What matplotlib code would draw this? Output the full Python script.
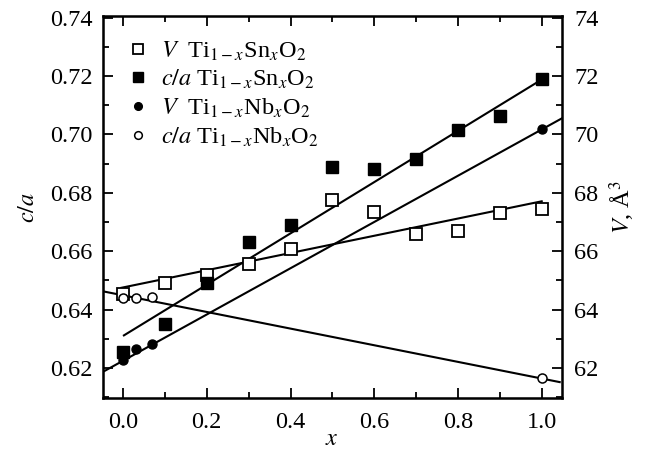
import matplotlib
matplotlib.use("Agg")
import matplotlib.pyplot as plt
import numpy as np
from matplotlib.ticker import MultipleLocator

plt.rcParams["font.family"] = ["Liberation Serif", "DejaVu Serif"]
plt.rcParams["mathtext.fontset"] = "stix"
plt.rcParams["font.size"] = 17.5

# V Ti(1-x)Sn(x)O2, plotted in c/a units (V/100)
x_sn = [0.0, 0.1, 0.2, 0.3, 0.4, 0.5, 0.6, 0.7, 0.8, 0.9, 1.0]
v_sn = [0.6455, 0.6491, 0.6520, 0.6557, 0.6606, 0.6775, 0.6735, 0.6660, 0.6668, 0.6730, 0.6745]
# c/a Ti(1-x)Sn(x)O2
ca_sn = [0.6255, 0.6352, 0.6491, 0.6630, 0.6690, 0.6888, 0.6882, 0.6915, 0.7016, 0.7062, 0.7190]
# Nb series
x_nb = [0.0, 0.03, 0.07, 1.0]
v_nb = [0.6229, 0.6264, 0.6281, 0.7020]
ca_nb = [0.6440, 0.6440, 0.6443, 0.6165]

# fitted lines: (x start, x end, intercept, slope)
fit_v_sn = (-0.004, 1.0, 0.6476, 0.0295)
fit_ca_sn = (0.002, 1.0, 0.631, 0.0878)
fit_v_nb = (-0.049, 1.048, 0.6225, 0.0792)
fit_ca_nb = (-0.049, 1.043, 0.6449, -0.0285)

fig = plt.figure(figsize=(6.45, 4.5), dpi=100)
ax = fig.add_axes([0.159, 0.116, 0.712, 0.848])

for x0, x1, b, m in [fit_v_sn, fit_ca_sn, fit_v_nb, fit_ca_nb]:
    xs = np.array([x0, x1])
    ax.plot(xs, b + m * xs, color="black", lw=1.5, zorder=1)

ax.plot(x_sn, v_sn, "s", ms=8.5, mfc="white", mec="black", mew=1.3,
        label=r"$V$  Ti$_{1-x}$Sn$_x$O$_2$", zorder=3)
ax.plot(x_sn, ca_sn, "s", ms=8.5, mfc="black", mec="black",
        label=r"$c/a$ Ti$_{1-x}$Sn$_x$O$_2$", zorder=3)
ax.plot(x_nb, v_nb, "o", ms=6.5, mfc="black", mec="black",
        label=r"$V$  Ti$_{1-x}$Nb$_x$O$_2$", zorder=3)
ax.plot(x_nb, ca_nb, "o", ms=6.5, mfc="white", mec="black", mew=1.1,
        label=r"$c/a$ Ti$_{1-x}$Nb$_x$O$_2$", zorder=3)

ax.set_xlim(-0.049, 1.048)
ax.set_ylim(0.6098, 0.7405)
ax.xaxis.set_major_locator(MultipleLocator(0.2))
ax.xaxis.set_minor_locator(MultipleLocator(0.1))
ax.yaxis.set_major_locator(MultipleLocator(0.02))
ax.yaxis.set_minor_locator(MultipleLocator(0.01))
ax.xaxis.set_major_formatter(plt.FuncFormatter(lambda v, p: f"{v:.1f}"))
ax.yaxis.set_major_formatter(plt.FuncFormatter(lambda v, p: f"{v:.2f}"))
ax.tick_params(which="both", direction="in", top=True, width=1.3)
ax.tick_params(which="major", length=7)
ax.tick_params(which="minor", length=4)
ax.tick_params(axis="y", which="both", right=False, pad=7)
ax.tick_params(axis="x", which="major", pad=10)
for s in ax.spines.values():
    s.set_linewidth(1.8)

ax.set_xlabel(r"$x$", labelpad=-3)
ax.set_ylabel(r"$c/a$", labelpad=8)

ax2 = ax.twinx()
ax2.set_ylim(60.98, 74.05)
ax2.yaxis.set_major_locator(MultipleLocator(2))
ax2.yaxis.set_minor_locator(MultipleLocator(1))
ax2.tick_params(which="both", direction="in", width=1.3)
ax2.tick_params(which="major", length=7, pad=9)
ax2.tick_params(which="minor", length=4)
ax2.set_ylabel(r"$V$, Å$^3$", labelpad=6)

leg = ax.legend(loc="upper left", bbox_to_anchor=(0.035, 0.965), frameon=False,
                handletextpad=0.55, handlelength=0.8, labelspacing=0.22,
                borderaxespad=0.0, markerscale=0.85, fontsize=17.5)

fig.savefig("out.png", dpi=100)
